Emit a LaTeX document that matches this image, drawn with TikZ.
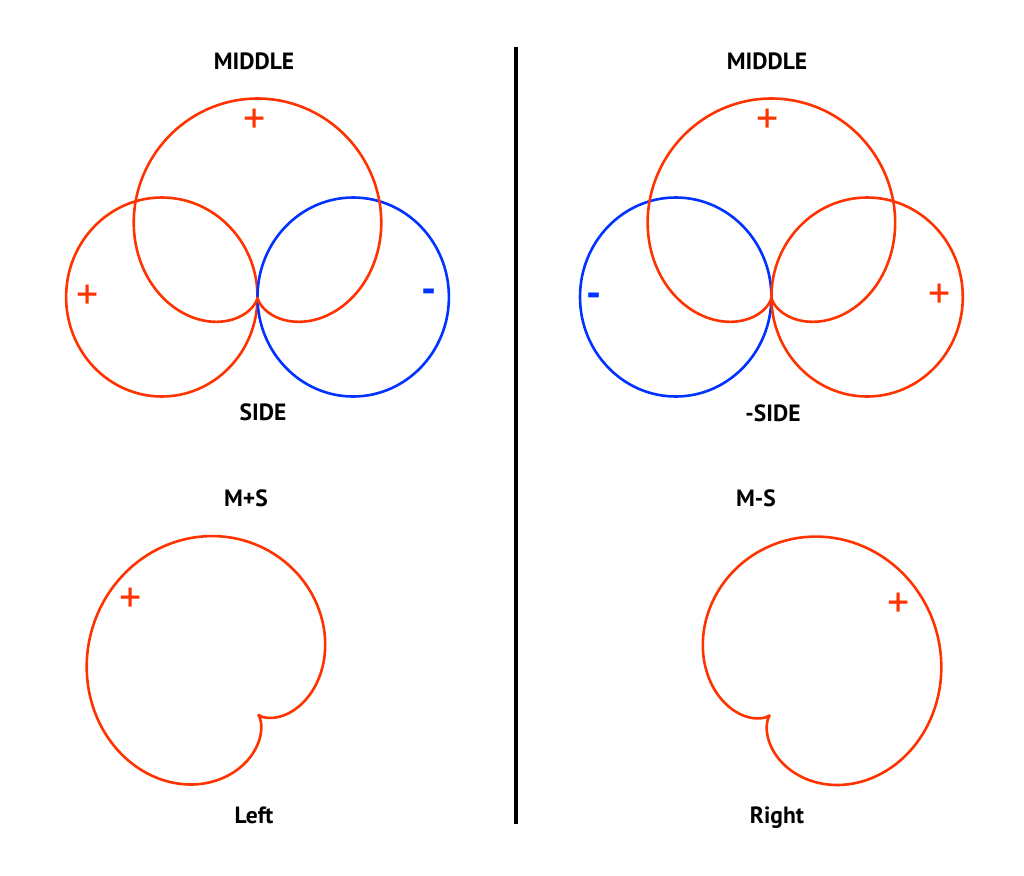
\documentclass[tikz,border=0pt]{standalone}
\usepackage{fontspec}
\setmainfont{PT Sans}
\definecolor{pred}{RGB}{255,51,0}
\definecolor{pblue}{RGB}{0,51,255}
\begin{document}
\begin{tikzpicture}[x=1pt,y=-1pt,
  lobe/.style={line width=2.6pt},
  redlobe/.style={lobe,draw=pred},
  bluelobe/.style={lobe,draw=pblue},
  lbl/.style={font=\fontsize{23.5}{23.5}\selectfont\bfseries,anchor=base,inner sep=0pt},
  plus/.style={font=\fontsize{44}{44}\selectfont,inner sep=0pt,text=pred,yshift=-3pt},
  minus/.style={font=\fontsize{42}{42}\selectfont\bfseries,inner sep=0pt,text=pblue,yshift=-3pt}]
\useasboundingbox (0,0) rectangle (1024,875);
\fill[white] (0,0) rectangle (1024,875);

% divider
\draw[line width=3.5pt] (516,47) -- (516,824);

% ---------- top left ----------
\draw[redlobe] (161.8,297) ellipse [x radius=95.7, y radius=99.5];
\draw[bluelobe] (353.2,297) ellipse [x radius=95.7, y radius=99.5];
\draw[redlobe] plot[domain=0:360,samples=240,smooth cycle]
  ({257.5+0.96*99.25*(1+sin(\x))*cos(\x)},{297-99.25*(1+sin(\x))*sin(\x)});
\node[lbl] (midL) at (254,70) {MIDDLE};
\node[lbl] (sideL) at (263,420) {SIDE};
\node[plus] (pL1) at (255,118) {+};
\node[plus] (pL2) at (88,294) {+};
\node[minus] (mL) at (429,293) {-};

% ---------- top right ----------
\draw[bluelobe] (675.7,297) ellipse [x radius=95.7, y radius=99.5];
\draw[redlobe] (867.1,297) ellipse [x radius=95.7, y radius=99.5];
\draw[redlobe] plot[domain=0:360,samples=240,smooth cycle]
  ({771.4+0.96*99.25*(1+sin(\x))*cos(\x)},{297-99.25*(1+sin(\x))*sin(\x)});
\node[lbl] (midR) at (767,70) {MIDDLE};
\node[lbl] (sideR) at (773,421) {-SIDE};
\node[plus] (pR1) at (768,118) {+};
\node[plus] (pR2) at (940,293) {+};
\node[minus] (mR) at (594,297) {-};

% ---------- bottom left: M+S ----------
\draw[redlobe] plot[domain=0:360,samples=240,smooth cycle]
  ({258+0.96*99*(1+cos(\x-135))*cos(\x)},{714.5-99*(1+cos(\x-135))*sin(\x)});
\node[lbl] (msL) at (246,506) {M+S};
\node[lbl] (left) at (254,823) {Left};
\node[plus] (pB1) at (131,597) {+};

% ---------- bottom right: M-S ----------
\draw[redlobe] plot[domain=0:360,samples=240,smooth cycle]
  ({770+0.96*99*(1+cos(\x-45))*cos(\x)},{715-99*(1+cos(\x-45))*sin(\x)});
\node[lbl] (msR) at (756,506) {M-S};
\node[lbl] (right) at (777,823) {Right};
\node[plus] (pB2) at (899,602) {+};
\end{tikzpicture}
\end{document}
